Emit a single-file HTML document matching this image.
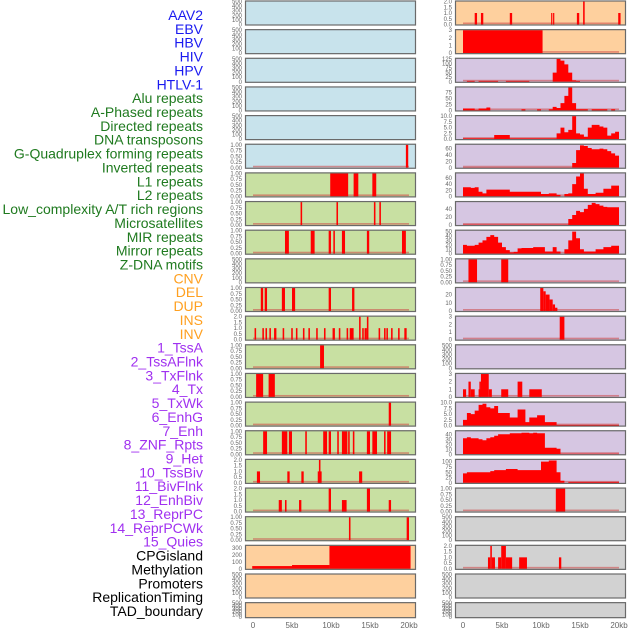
<!DOCTYPE html>
<html><head><meta charset="utf-8">
<style>
html,body{margin:0;padding:0;background:#fff;width:630px;height:630px;overflow:hidden}
svg{display:block}
.lab{font-family:"Liberation Sans",sans-serif;font-size:14px}
.tk{font-family:"Liberation Sans",sans-serif;font-size:6px;fill:#666}
.xt{font-family:"Liberation Sans",sans-serif;font-size:8px;fill:#666}
</style></head>
<body>
<svg id="chart" width="630" height="630" viewBox="0 0 630 630"></svg>
<script>
// ---- labels ----
const trackLabels = ["AAV2","EBV","HBV","HIV","HPV","HTLV-1","Alu repeats","A-Phased repeats","Directed repeats","DNA transposons","G-Quadruplex forming repeats","Inverted repeats","L1 repeats","L2 repeats","Low_complexity A/T rich regions","Microsatellites","MIR repeats","Mirror repeats","Z-DNA motifs","CNV","DEL","DUP","INS","INV","1_TssA","2_TssAFlnk","3_TxFlnk","4_Tx","5_TxWk","6_EnhG","7_Enh","8_ZNF_Rpts","9_Het","10_TssBiv","11_BivFlnk","12_EnhBiv","13_ReprPC","14_ReprPCWk","15_Quies","CPGisland","Methylation","Promoters","ReplicationTiming","TAD_boundary"];
const labelGroupSizes = [6,13,5,15,5];
const labelColors = ["#1a1af0","#1f7a1f","#ffa020","#a030f0","#000000"];
const xTickValues = [0,5,10,15,20];
const xTickLabels = ["0","5kb","10kb","15kb","20kb"];

// ---- tick sets ----
const ticks500 = [0,100,200,300,400,500];
const ticks1 = [0,0.25,0.5,0.75,1];
const ticks2 = [0,0.5,1,1.5,2];
const ticks3 = [0,1,2,3];
const ticks10 = [0,2.5,5,7.5,10];

// ---- left column data: bars [startKb,endKb,value] ----
const leftR5 = [[19.6,19.9,1]];
const leftR6 = [[9.9,12.2,1],[12.9,13.5,1],[15.3,15.8,1]];
const leftR7 = [[6.1,6.3,1],[10.7,10.9,1],[15.5,15.7,1],[16.2,16.4,1]];
const leftR8 = [[4.1,4.6,1],[7.4,7.9,1],[9.7,10,1],[10.3,10.5,1],[11.4,11.8,1],[14.6,14.9,1],[19.1,19.6,1]];
const leftR10 = [[1.0,1.3,1],[1.5,1.8,1],[3.7,4.1,1],[5.0,5.4,1],[9.7,10,1],[12.7,13,1]];
const leftR11 = [[0.2,0.4,1],[1.2,1.4,1],[1.6,1.8,1],[2.1,2.3,1],[2.7,3.0,1],[3.8,4.0,1],[4.9,5.1,1],[5.5,5.7,1],[6.4,6.6,1],[7.1,7.3,1],[8.1,8.3,1],[9.1,9.3,1],[10.2,10.5,1],[11.0,11.2,1],[12.0,12.2,1],[12.4,12.9,1],[13.6,13.8,2],[14.0,14.2,1],[14.3,14.6,1],[14.6,14.8,2],[16.1,16.3,1],[16.8,17.0,1],[17.1,17.3,1],[17.7,17.9,1],[18.6,18.8,1],[19.4,19.7,1]];
const leftR12 = [[8.6,9.1,1]];
const leftR13 = [[0.4,1.3,1],[2.0,2.8,1]];
const leftR14 = [[17.4,17.7,1]];
const leftR15 = [[1.3,1.8,1],[3.7,4.4,1],[4.6,5.0,1],[6.7,6.9,1],[9.0,9.5,1],[9.7,10,1],[10.8,11,1],[11.4,12.1,1],[12.2,12.4,1],[12.8,13,1],[14.6,15,1],[15.3,15.9,1],[16.8,17,1],[17.2,17.7,1]];
const leftR16 = [[0.5,0.9,1],[4.4,4.7,1],[6.2,6.5,1],[8.3,8.8,1],[8.45,8.65,2],[13.6,14.0,1]];
const leftR17 = [[3.3,3.7,1],[4.1,4.3,1],[5.9,6.2,1],[9.7,10,2],[11.4,12.0,1],[14.6,15.0,2],[17.4,17.7,1]];
const leftR18 = [[12.3,12.5,1],[19.7,20,1]];
const leftR19 = [[-0.1,5.0,40],[5.0,9.8,55],[9.8,20.2,330]];

// ---- right column data ----
const rightR0 = [[1.5,1.8,1],[2.3,2.6,1],[6.0,6.3,1],[11.3,11.45,1],[11.55,11.7,1],[14.6,14.9,1],[15.4,15.6,2],[19.9,20.2,1]];
const rightR1 = [[0,10.2,3]];
const rightR2 = [0,5,5,0,5,5,5,5,5,0,0,5,5,5,5,5,5,0,0,0,0,0,0,50,125,115,95,50,8,5,0,0,0,0,0,0,0,0,0,0];
const rightR3 = [8,8,8,3,8,8,12,0,0,0,0,0,0,0,0,5,0,0,0,5,0,0,5,15,10,30,60,95,30,5,5,5,0,5,5,5,5,0,5,0];
const rightR4 = [0.3,0.3,0.3,0.3,0.3,0.3,0.3,0.3,1.8,1.8,1.8,1.8,0.3,0.3,0.3,0.3,0.3,0.3,0.3,0.3,0.3,0.3,0.3,0.3,2.5,5,3,4,10,2.5,2,1,5,6.2,6.2,5.5,5,1.5,2.5,3.2];
const rightR5 = [1,1,1,1,1,1,1,1,1,1,1,1,1,1,1,1,1,1,1,1,1,1,1,1,1,1,1,1,15,55,70,68,62,58,58,60,58,52,45,38];
const rightR6 = [30,30,28,30,15,10,22,22,22,22,22,22,15,15,15,15,15,15,15,15,8,8,10,10,5,0,8,10,40,65,75,25,8,8,12,12,25,25,35,35];
const rightR7 = [1,1,1,1,1,1,1,1,1,1,1,1,1,1,1,1,1,1,1,1,1,1,1,1,1,1,1,15,25,35,32,40,50,55,52,48,45,44,44,44];
const rightR8 = [20,18,18,20,25,30,38,42,38,25,15,8,3,4,12,13,13,13,15,15,15,5,5,15,5,0,10,30,50,35,10,5,5,5,10,10,15,15,18,18];
const rightR9 = [[0.7,1.8,1],[4.9,5.8,1]];
const rightR10 = [[9.9,10.3,28],[10.3,10.6,24],[10.6,11.1,20],[11.1,11.5,14],[11.5,11.8,8],[11.8,12.1,4]];
const rightR11 = [[12.4,13.0,3]];
const rightR13 = [[0,0.4,1],[0.7,1.0,2],[1.0,1.5,1],[2.0,2.3,1],[2.1,2.3,2],[2.3,3.3,3],[3.3,3.7,1],[4.9,5.8,1],[7.0,7.6,2],[8.5,10.1,1]];
const rightR14 = [2.5,5.5,5,6.5,9,9.5,8,7.5,8.5,5.5,5.5,5.5,3.5,3.5,7,7,1.5,3.5,3.5,4.5,4.5,1.5,1.5,1.5,0.3,0.3,0.3,0.3,0.3,0.3,0.3,0.3,0.3,0.3,0.3,0.3,0.3,0.3,0.3,0.3];
const rightR15 = [32,34,32,32,30,28,32,34,37,40,40,40,42,42,42,43,43,42,43,42,42,13,13,13,11,1,1,1,1,1,1,1,1,1,1,1,1,1,1,1];
const rightR16 = [45,50,50,50,50,50,50,55,60,60,60,65,65,65,60,60,60,60,60,60,100,100,105,105,50,10,0,5,5,5,5,5,5,5,5,5,5,5,5,5];
const rightR17 = [[11.9,13.1,1]];
const rightR19 = [[3.2,3.5,1],[3.5,3.7,2],[3.7,4.1,1],[4.5,4.9,1],[4.9,5.5,2],[5.5,6.3,1],[7.2,8.2,1],[12.3,12.6,1]];

const BLUE="#c8e3ec", GREEN="#c8e0a2", ORANGE="#fed09e", PURPLE="#d6c6e2", GRAY="#d2d2d2";
const leftPanels = [
 {name:"aav2",bg:BLUE,ticks:ticks500,max:500},
 {name:"ebv",bg:BLUE,ticks:ticks500,max:500},
 {name:"hbv",bg:BLUE,ticks:ticks500,max:500},
 {name:"hiv",bg:BLUE,ticks:ticks500,max:500},
 {name:"hpv",bg:BLUE,ticks:ticks500,max:500},
 {name:"htlv",bg:BLUE,ticks:ticks1,max:1,bars:leftR5},
 {name:"l-r6",bg:GREEN,ticks:ticks1,max:1,bars:leftR6},
 {name:"l-r7",bg:GREEN,ticks:ticks1,max:1,bars:leftR7},
 {name:"l-r8",bg:GREEN,ticks:ticks1,max:1,bars:leftR8},
 {name:"l-r9",bg:GREEN,ticks:ticks500,max:500},
 {name:"l-r10",bg:GREEN,ticks:ticks1,max:1,bars:leftR10},
 {name:"l-r11",bg:GREEN,ticks:ticks2,max:2,bars:leftR11},
 {name:"l-r12",bg:GREEN,ticks:ticks1,max:1,bars:leftR12},
 {name:"l-r13",bg:GREEN,ticks:ticks1,max:1,bars:leftR13},
 {name:"l-r14",bg:GREEN,ticks:ticks1,max:1,bars:leftR14},
 {name:"l-r15",bg:GREEN,ticks:ticks1,max:1,bars:leftR15},
 {name:"l-r16",bg:GREEN,ticks:ticks2,max:2,bars:leftR16},
 {name:"l-r17",bg:GREEN,ticks:ticks2,max:2,bars:leftR17},
 {name:"l-r18",bg:GREEN,ticks:ticks1,max:1,bars:leftR18},
 {name:"cpg",bg:ORANGE,ticks:[0,100,200,300],max:330,bars:leftR19,nobase:true},
 {name:"l-r20",bg:ORANGE,ticks:ticks500,max:500},
 {name:"l-r21",bg:ORANGE,ticks:ticks500,max:500}
];
const rightPanels = [
 {name:"r-r0",bg:ORANGE,ticks:ticks2,max:2,bars:rightR0},
 {name:"r-r1",bg:ORANGE,ticks:ticks3,max:3,bars:rightR1},
 {name:"r-r2",bg:PURPLE,ticks:[0,25,50,75,100,125],max:125,series:rightR2},
 {name:"r-r3",bg:PURPLE,ticks:[0,25,50,75],max:95,series:rightR3},
 {name:"r-r4",bg:PURPLE,ticks:ticks10,max:10,series:rightR4},
 {name:"r-r5",bg:PURPLE,ticks:[0,20,40,60],max:72,series:rightR5},
 {name:"r-r6",bg:PURPLE,ticks:[0,20,40,60],max:75,series:rightR6},
 {name:"r-r7",bg:PURPLE,ticks:[0,20,40],max:57,series:rightR7},
 {name:"r-r8",bg:PURPLE,ticks:[0,10,20,30,40,50],max:52,series:rightR8},
 {name:"r-r9",bg:PURPLE,ticks:ticks1,max:1,bars:rightR9},
 {name:"r-r10",bg:PURPLE,ticks:[0,10,20],max:28,bars:rightR10},
 {name:"r-r11",bg:PURPLE,ticks:ticks3,max:3,bars:rightR11},
 {name:"r-r12",bg:PURPLE,ticks:ticks500,max:500},
 {name:"r-r13",bg:PURPLE,ticks:ticks3,max:3,bars:rightR13},
 {name:"r-r14",bg:PURPLE,ticks:ticks10,max:10,series:rightR14},
 {name:"r-r15",bg:PURPLE,ticks:[0,10,20,30,40],max:46,series:rightR15},
 {name:"r-r16",bg:PURPLE,ticks:[0,25,50,75,100],max:108,series:rightR16},
 {name:"r-r17",bg:GRAY,ticks:ticks1,max:1,bars:rightR17},
 {name:"r-r18",bg:GRAY,ticks:ticks500,max:500},
 {name:"r-r19",bg:GRAY,ticks:ticks2,max:2,bars:rightR19},
 {name:"r-r20",bg:GRAY,ticks:ticks500,max:500},
 {name:"r-r21",bg:GRAY,ticks:ticks500,max:500}
];

const NS="http://www.w3.org/2000/svg";
const svg=document.getElementById('chart');
function mk(tag,attrs,parent){const e=document.createElementNS(NS,tag);for(const k in attrs)e.setAttribute(k,attrs[k]);(parent||svg).appendChild(e);return e;}

// labels
let li=0;
labelGroupSizes.forEach((n,g)=>{for(let k=0;k<n;k++,li++){
  const t=mk('text',{x:203,y:15+li*13.86+5,'text-anchor':'end','class':'lab',fill:labelColors[g]});
  t.textContent=trackLabels[li];
  
  
}});

function fmt(v,set){
  if(set===ticks1) return v.toFixed(2);
  if(set===ticks2||set===ticks10) return v.toFixed(1);
  return String(v);
}

function drawColumn(panels,px,x0,colName){
  const g=mk('g',{});
  
  
  const xs=kb=>x0+kb*7.8;
  panels.forEach((p,i)=>{
    const top=0.5+28.65*i, h=(i===21?16:25), w=171;
    const pg=mk('g',{},g);
    
    
    mk('rect',{x:px,y:top,width:w,height:h,fill:p.bg},pg);
    const bot=top+h-1, ih=h-2;
    const ys=v=>bot-Math.min(v,p.max)/p.max*ih;
    if(p.bars||p.series){
      if(!p.nobase) mk('rect',{x:xs(0),y:bot-2,width:xs(20)-xs(0),height:1.6,fill:'rgba(205,70,70,0.55)'},pg);
    }
    if(p.bars){p.bars.forEach(b=>{
      const r=mk('rect',{x:xs(b[0]),y:ys(b[2]),width:Math.max(1.2,xs(b[1])-xs(b[0])),height:bot-ys(b[2]),fill:'#ff0000'},pg);
      
      
    });}
    if(p.series){
      let d='M'+xs(0)+','+bot;
      p.series.forEach((v,k)=>{d+=' L'+xs(k*0.5)+','+ys(v)+' L'+xs(k*0.5+0.5)+','+ys(v);});
      d+=' L'+xs(20)+','+bot+' Z';
      const a=mk('path',{d:d,fill:'#ff0000'},pg);
      
      
    }
    mk('rect',{x:px+0.5,y:top+0.5,width:w-1,height:h-1,fill:'none',stroke:'#6a6a6a','stroke-width':1.2},pg);
    p.ticks.forEach(v=>{
      const t=mk('text',{x:px-3,y:ys(v)+2,'text-anchor':'end','class':'tk'},pg);
      t.textContent=fmt(v,p.ticks);
      
      
    });
  });
  xTickValues.forEach((v,k)=>{
    const t=mk('text',{x:xs(v),y:628,'text-anchor':'middle','class':'xt'},g);
    t.textContent=xTickLabels[k];
    
    
  });
}
drawColumn(leftPanels,245,253,'left-track-column');
drawColumn(rightPanels,455,463,'right-track-column');
</script>
</body></html>
